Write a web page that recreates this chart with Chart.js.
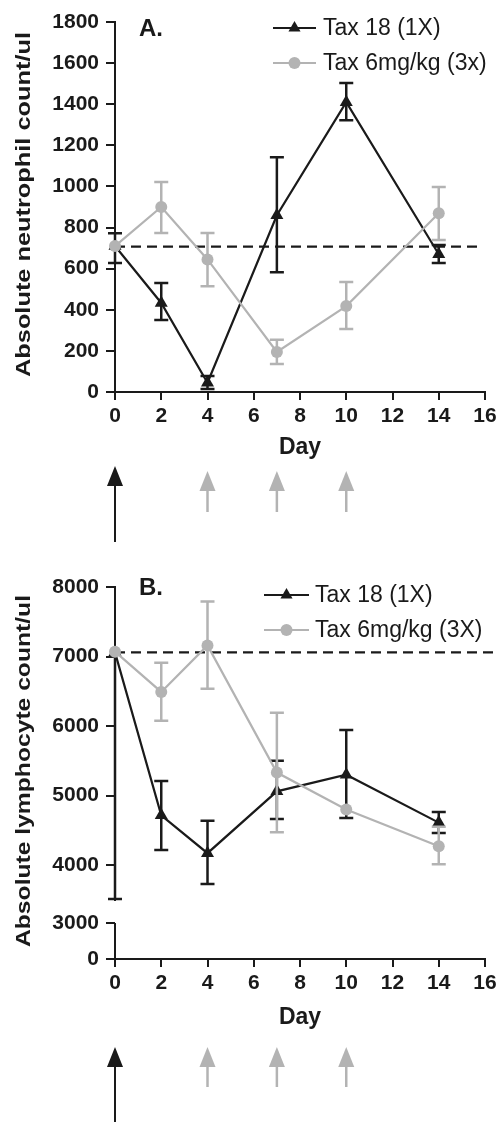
<!DOCTYPE html>
<html>
<head>
<meta charset="utf-8">
<script src="https://cdn.jsdelivr.net/npm/chart.js@4.4.1/dist/chart.umd.min.js"></script>
<style>
  html, body { margin: 0; padding: 0; background: #fff; }
  .panel { width: 501px; height: 561px; }
  canvas { display: block; }
</style>
</head>
<body>
<div class="panel"><canvas id="chart-a" width="501" height="561"></canvas></div>
<div class="panel"><canvas id="chart-b" width="501" height="561"></canvas></div>
<script>
// ---- data ----
const days = [0, 2, 4, 7, 10, 14];

// A. neutrophils
const neutroTax18 = [710, 433, 45, 860, 1410, 670];
const neutroTax18Low = [628, 350, 15, 582, 1322, 627];
const neutroTax18High = [772, 530, 78, 1142, 1503, 715];
const neutroTax6 = [710, 900, 645, 195, 418, 870];
const neutroTax6Low = [710, 773, 515, 136, 307, 740];
const neutroTax6High = [710, 1022, 773, 254, 535, 997];
const neutroBaseline = 707;
const neutroBaselineEnd = 15.8;

// B. lymphocytes
const lymphoTax18 = [7060, 4715, 4170, 5060, 5300, 4610];
const lymphoTax18Low = [3510, 4215, 3725, 4662, 4675, 4460];
const lymphoTax18High = [7060, 5210, 4638, 5500, 5942, 4762];
const lymphoTax6 = [7070, 6490, 7160, 5330, 4800, 4270];
const lymphoTax6Low = [7070, 6076, 6535, 4470, 4800, 4010];
const lymphoTax6High = [7070, 6910, 7790, 6190, 4800, 4550];
const lymphoBaseline = 7060;
const lymphoBaselineEnd = 16.5;
const lymphoUpperTicks = [4000, 5000, 6000, 7000, 8000];
const lymphoLowerTicks = [0, 3000];

// dosing days (arrows under the axis)
const tax18DoseDays = [0];
const tax6DoseDays = [4, 7, 10];

const FONT = '"Liberation Sans", Arial, Helvetica, sans-serif';
const INK = "#1a1a1a";
const GREY = "#b3b3b3";

Chart.defaults.font.family = FONT;
Chart.defaults.color = INK;

const toPoints = (ys) => days.map((d, i) => ({ x: d, y: ys[i] }));

const series = (label, values, low, high, color, style, radius, order, yAxisID) => ({
  label,
  data: toPoints(values),
  errLow: low,
  errHigh: high,
  inLegend: true,
  legendRadius: style === "triangle" ? 7 : 6,
  borderColor: color,
  backgroundColor: color,
  pointBackgroundColor: color,
  pointBorderWidth: 0,
  pointStyle: style,
  pointRadius: radius,
  pointHoverRadius: radius,
  borderWidth: 2.2,
  tension: 0,
  clip: false,
  order,
  yAxisID,
});

const baseline = (value, end, yAxisID) => ({
  label: "baseline",
  data: [{ x: 0, y: value }, { x: end, y: value }],
  borderColor: INK,
  borderWidth: 2.3,
  borderDash: [10, 6],
  pointRadius: 0,
  clip: false,
  order: 2,
  yAxisID,
});

// error bars drawn just before their own dataset so markers sit on top
const errorBarPlugin = {
  id: "errorBars",
  beforeDatasetDraw(chart, args) {
    const ds = chart.data.datasets[args.index];
    if (!ds.errLow) return;
    const meta = args.meta;
    const yScale = chart.scales[meta.yAxisID];
    const { ctx } = chart;
    const half = 7;
    ctx.save();
    ctx.strokeStyle = ds.borderColor;
    ctx.lineWidth = 2.5;
    meta.data.forEach((pt, i) => {
      const v = ds.data[i].y;
      const lo = ds.errLow[i];
      const hi = ds.errHigh[i];
      if (lo === hi) return;
      const x = pt.x;
      const yLo = yScale.getPixelForValue(lo);
      const yHi = yScale.getPixelForValue(hi);
      ctx.beginPath();
      ctx.moveTo(x, yLo);
      ctx.lineTo(x, yHi);
      if (lo !== v) {
        ctx.moveTo(x - half, yLo);
        ctx.lineTo(x + half, yLo);
      }
      if (hi !== v) {
        ctx.moveTo(x - half, yHi);
        ctx.lineTo(x + half, yHi);
      }
      ctx.stroke();
    });
    ctx.restore();
  },
};

const legendPlugin = {
  id: "sketchLegend",
  afterDraw(chart, args, opts) {
    const { ctx } = chart;
    const items = chart.data.datasets.filter((d) => d.inLegend);
    ctx.save();
    ctx.font = `23px ${FONT}`;
    ctx.textBaseline = "middle";
    ctx.textAlign = "left";
    items.forEach((ds, i) => {
      const y = opts.y + i * opts.rowGap;
      ctx.strokeStyle = ds.borderColor;
      ctx.lineWidth = 2.2;
      ctx.setLineDash([]);
      ctx.beginPath();
      ctx.moveTo(opts.x, y);
      ctx.lineTo(opts.x + opts.lineLen, y);
      ctx.stroke();
      ctx.fillStyle = ds.pointBackgroundColor;
      Chart.helpers.drawPoint(ctx, { pointStyle: ds.pointStyle, radius: ds.legendRadius, borderWidth: 0, rotation: 0 }, opts.x + opts.lineLen / 2, y);
      ctx.fillStyle = INK;
      ctx.fillText(ds.label, opts.textX, y + 1);
    });
    ctx.restore();
  },
};

const panelTextPlugin = {
  id: "panelText",
  afterDraw(chart, args, opts) {
    const { ctx, chartArea } = chart;
    ctx.save();
    ctx.fillStyle = INK;
    // panel letter
    ctx.font = `bold 24px ${FONT}`;
    ctx.textAlign = "left";
    ctx.textBaseline = "alphabetic";
    ctx.fillText(opts.letter, opts.letterX, opts.letterY);
    // y axis title, stretched to the reference length
    ctx.font = `bold 20px ${FONT}`;
    const w = ctx.measureText(opts.yTitle).width;
    ctx.translate(opts.yTitleX, (chartArea.top + chartArea.bottom) / 2 + opts.yTitleDy);
    ctx.rotate(-Math.PI / 2);
    ctx.scale(opts.yTitleLen / w, 1);
    ctx.textAlign = "center";
    ctx.textBaseline = "middle";
    ctx.fillText(opts.yTitle, 0, 0);
    ctx.restore();
  },
};

const arrowPlugin = {
  id: "doseArrows",
  afterDraw(chart, args, opts) {
    const { ctx } = chart;
    const xScale = chart.scales.x;
    ctx.save();
    opts.groups.forEach((g) => {
      g.days.forEach((d) => {
        const x = xScale.getPixelForValue(d);
        ctx.strokeStyle = g.color;
        ctx.fillStyle = g.color;
        ctx.lineWidth = g.shaft;
        ctx.beginPath();
        ctx.moveTo(x, g.base - 1);
        ctx.lineTo(x, g.end);
        ctx.stroke();
        ctx.beginPath();
        ctx.moveTo(x, g.tip);
        ctx.lineTo(x - 8, g.base);
        ctx.lineTo(x + 8, g.base);
        ctx.closePath();
        ctx.fill();
      });
    });
    ctx.restore();
  },
};

// lower piece of the broken y axis in panel B
const brokenAxisPlugin = {
  id: "brokenAxis",
  afterDraw(chart, args, opts) {
    const low = chart.scales[opts.scaleId];
    if (!low) return;
    const { ctx, chartArea } = chart;
    ctx.save();
    ctx.strokeStyle = INK;
    ctx.lineWidth = 2;
    ctx.beginPath();
    ctx.moveTo(chartArea.left, low.getPixelForValue(opts.from));
    ctx.lineTo(chartArea.left, low.getPixelForValue(opts.to));
    ctx.stroke();
    ctx.restore();
  },
};

const tickFont = { size: 21, weight: "bold" };
const titleFont = { size: 23, weight: "bold" };
const plainLabel = (v) => String(v);

const xAxis = (height) => ({
  type: "linear",
  min: 0,
  max: 16,
  border: { display: true, color: INK, width: 2 },
  grid: { drawOnChartArea: false, drawTicks: true, color: INK, lineWidth: 2, tickLength: 8 },
  ticks: { stepSize: 2, padding: 4, font: tickFont, color: INK, maxRotation: 0, autoSkip: false, callback: plainLabel },
  title: { display: true, text: "Day", font: titleFont, color: INK, padding: { top: 0, bottom: 0 } },
  afterFit: (s) => { s.height = height; },
});

const yAxisBase = {
  type: "linear",
  position: "left",
  border: { display: true, color: INK, width: 2 },
  grid: { drawOnChartArea: false, drawTicks: true, color: INK, lineWidth: 2, tickLength: 9 },
  ticks: { padding: 7, font: tickFont, color: INK, callback: plainLabel },
  afterFit: (s) => { s.width = 115; },
};

new Chart(document.getElementById("chart-a"), {
  type: "line",
  data: {
    datasets: [
      series("Tax 18 (1X)", neutroTax18, neutroTax18Low, neutroTax18High, INK, "triangle", 7.5, 1, "y"),
      series("Tax 6mg/kg (3x)", neutroTax6, neutroTax6Low, neutroTax6High, GREY, "circle", 6, 0, "y"),
      baseline(neutroBaseline, neutroBaselineEnd, "y"),
    ],
  },
  options: {
    responsive: false,
    animation: false,
    layout: { padding: { top: 22, right: 16, bottom: 99.2, left: 0 } },
    plugins: {
      legend: { display: false },
      tooltip: { enabled: false },
      sketchLegend: { x: 273, lineLen: 43, textX: 323, y: 28, rowGap: 35 },
      panelText: { letter: "A.", letterX: 139, letterY: 36, yTitle: "Absolute neutrophil count/ul", yTitleX: 24, yTitleDy: -2.5, yTitleLen: 345 },
      doseArrows: {
        groups: [
          { days: tax18DoseDays, color: INK, tip: 466, base: 486, end: 542, shaft: 2 },
          { days: tax6DoseDays, color: GREY, tip: 471, base: 491, end: 512, shaft: 2.5 },
        ],
      },
    },
    scales: {
      x: xAxis(69.8),
      y: { ...yAxisBase, min: 0, max: 1800, ticks: { ...yAxisBase.ticks, stepSize: 200 } },
    },
  },
  plugins: [errorBarPlugin, legendPlugin, panelTextPlugin, arrowPlugin],
});

new Chart(document.getElementById("chart-b"), {
  type: "line",
  data: {
    datasets: [
      series("Tax 18 (1X)", lymphoTax18, lymphoTax18Low, lymphoTax18High, INK, "triangle", 7.5, 1, "y"),
      series("Tax 6mg/kg (3X)", lymphoTax6, lymphoTax6Low, lymphoTax6High, GREY, "circle", 6, 0, "y"),
      baseline(lymphoBaseline, lymphoBaselineEnd, "y"),
    ],
  },
  options: {
    responsive: false,
    animation: false,
    layout: { padding: { top: 26, right: 16, bottom: 90.2, left: 0 } },
    plugins: {
      legend: { display: false },
      tooltip: { enabled: false },
      sketchLegend: { x: 264, lineLen: 45, textX: 315, y: 34, rowGap: 35 },
      panelText: { letter: "B.", letterX: 139, letterY: 34, yTitle: "Absolute lymphocyte count/ul", yTitleX: 24, yTitleDy: -2, yTitleLen: 352 },
      brokenAxis: { scaleId: "yLow", from: 3000, to: 0 },
      doseArrows: {
        groups: [
          { days: tax18DoseDays, color: INK, tip: 486, base: 506, end: 561, shaft: 2 },
          { days: tax6DoseDays, color: GREY, tip: 486, base: 506, end: 526, shaft: 2.5 },
        ],
      },
    },
    scales: {
      x: xAxis(72.8),
      yLow: {
        ...yAxisBase,
        min: 0,
        max: 4940,
        stack: "lympho",
        stackWeight: 59.25,
        border: { display: false },
        afterBuildTicks: (s) => { s.ticks = lymphoLowerTicks.map((v) => ({ value: v })); },
      },
      y: {
        ...yAxisBase,
        min: 3500,
        max: 8000,
        stack: "lympho",
        stackWeight: 312.75,
        afterBuildTicks: (s) => { s.ticks = lymphoUpperTicks.map((v) => ({ value: v })); },
      },
    },
  },
  plugins: [errorBarPlugin, legendPlugin, panelTextPlugin, arrowPlugin, brokenAxisPlugin],
});
</script>
</body>
</html>
